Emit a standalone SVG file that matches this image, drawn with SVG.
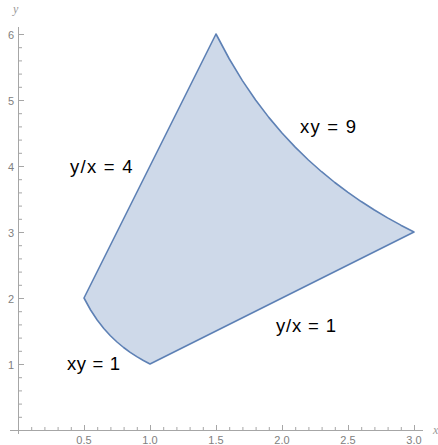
<svg xmlns="http://www.w3.org/2000/svg" width="438" height="445" viewBox="0 0 438 445">
<style>
.ax{stroke:#a6a6a6;stroke-width:1;fill:none}
.tk{stroke:#a6a6a6;stroke-width:1}
.tl{font-family:"Liberation Sans",Arial,sans-serif;font-size:11px;fill:#808080}
.al{font-family:"Liberation Serif","Times New Roman",serif;font-style:italic;font-size:12px;fill:#9a9a9a}
.lb{font-family:"Liberation Sans",Arial,sans-serif;font-size:18.5px;fill:#000}
</style>
<rect width="438" height="445" fill="#fff"/>
<g id="region">
<path d="M150,364 L414,232 L400.8,225.17 L387.6,217.86 L374.4,210 L361.2,201.54 L348,192.4 L334.8,182.5 L321.6,171.74 L308.4,160 L295.2,147.14 L282,133 L268.8,117.37 L255.6,100 L242.4,80.59 L229.2,58.75 L216,34 L84,298 L90.6,310 L97.2,320 L103.8,328.46 L110.4,335.71 L117,342 L123.6,347.5 L130.2,352.35 L136.8,356.67 L143.4,360.53 Z" fill="#5e81b5" fill-opacity="0.3" stroke="#5e81b5" stroke-width="1.6" stroke-linejoin="round"/>
</g>
<g id="axes">
<line class="ax" x1="10" y1="430.5" x2="423" y2="430.5"/>
<line class="ax" x1="18.5" y1="27" x2="18.5" y2="434"/>
<g class="tk">
<line x1="31.7" y1="430" x2="31.7" y2="427"/><line x1="44.9" y1="430" x2="44.9" y2="427"/><line x1="58.1" y1="430" x2="58.1" y2="427"/><line x1="71.3" y1="430" x2="71.3" y2="427"/><line x1="84.5" y1="430" x2="84.5" y2="425"/>
<line x1="97.7" y1="430" x2="97.7" y2="427"/><line x1="110.9" y1="430" x2="110.9" y2="427"/><line x1="124.1" y1="430" x2="124.1" y2="427"/><line x1="137.3" y1="430" x2="137.3" y2="427"/><line x1="150.5" y1="430" x2="150.5" y2="425"/>
<line x1="163.7" y1="430" x2="163.7" y2="427"/><line x1="176.9" y1="430" x2="176.9" y2="427"/><line x1="190.1" y1="430" x2="190.1" y2="427"/><line x1="203.3" y1="430" x2="203.3" y2="427"/><line x1="216.5" y1="430" x2="216.5" y2="425"/>
<line x1="229.7" y1="430" x2="229.7" y2="427"/><line x1="242.9" y1="430" x2="242.9" y2="427"/><line x1="256.1" y1="430" x2="256.1" y2="427"/><line x1="269.3" y1="430" x2="269.3" y2="427"/><line x1="282.5" y1="430" x2="282.5" y2="425"/>
<line x1="295.7" y1="430" x2="295.7" y2="427"/><line x1="308.9" y1="430" x2="308.9" y2="427"/><line x1="322.1" y1="430" x2="322.1" y2="427"/><line x1="335.3" y1="430" x2="335.3" y2="427"/><line x1="348.5" y1="430" x2="348.5" y2="425"/>
<line x1="361.7" y1="430" x2="361.7" y2="427"/><line x1="374.9" y1="430" x2="374.9" y2="427"/><line x1="388.1" y1="430" x2="388.1" y2="427"/><line x1="401.3" y1="430" x2="401.3" y2="427"/><line x1="414.5" y1="430" x2="414.5" y2="425"/>
</g>
<g class="tk">
<line x1="19" y1="417.3" x2="22" y2="417.3"/><line x1="19" y1="404.1" x2="22" y2="404.1"/><line x1="19" y1="390.9" x2="22" y2="390.9"/><line x1="19" y1="377.7" x2="22" y2="377.7"/><line x1="19" y1="364.5" x2="24" y2="364.5"/>
<line x1="19" y1="351.3" x2="22" y2="351.3"/><line x1="19" y1="338.1" x2="22" y2="338.1"/><line x1="19" y1="324.9" x2="22" y2="324.9"/><line x1="19" y1="311.7" x2="22" y2="311.7"/><line x1="19" y1="298.5" x2="24" y2="298.5"/>
<line x1="19" y1="285.3" x2="22" y2="285.3"/><line x1="19" y1="272.1" x2="22" y2="272.1"/><line x1="19" y1="258.9" x2="22" y2="258.9"/><line x1="19" y1="245.7" x2="22" y2="245.7"/><line x1="19" y1="232.5" x2="24" y2="232.5"/>
<line x1="19" y1="219.3" x2="22" y2="219.3"/><line x1="19" y1="206.1" x2="22" y2="206.1"/><line x1="19" y1="192.9" x2="22" y2="192.9"/><line x1="19" y1="179.7" x2="22" y2="179.7"/><line x1="19" y1="166.5" x2="24" y2="166.5"/>
<line x1="19" y1="153.3" x2="22" y2="153.3"/><line x1="19" y1="140.1" x2="22" y2="140.1"/><line x1="19" y1="126.9" x2="22" y2="126.9"/><line x1="19" y1="113.7" x2="22" y2="113.7"/><line x1="19" y1="100.5" x2="24" y2="100.5"/>
<line x1="19" y1="87.3" x2="22" y2="87.3"/><line x1="19" y1="74.1" x2="22" y2="74.1"/><line x1="19" y1="60.9" x2="22" y2="60.9"/><line x1="19" y1="47.7" x2="22" y2="47.7"/><line x1="19" y1="34.5" x2="24" y2="34.5"/>
</g>
<g class="tl" text-anchor="middle">
<text x="84" y="444">0.5</text><text x="150" y="444">1.0</text><text x="216" y="444">1.5</text><text x="282" y="444">2.0</text><text x="348" y="444">2.5</text><text x="414" y="444">3.0</text>
</g>
<g class="tl" text-anchor="end">
<text x="14" y="368.5">1</text><text x="14" y="302.5">2</text><text x="14" y="236.5">3</text><text x="14" y="170.5">4</text><text x="14" y="104.5">5</text><text x="14" y="38.5">6</text>
</g>
<text class="al" x="433" y="434">x</text>
<text class="al" x="13" y="13">y</text>
</g>
<g id="labels">
<text class="lb" x="70" y="173" textLength="62.5" lengthAdjust="spacing">y/x = 4</text>
<text class="lb" x="300" y="133" textLength="56" lengthAdjust="spacing">xy = 9</text>
<text class="lb" x="276" y="332" textLength="60" lengthAdjust="spacing">y/x = 1</text>
<text class="lb" x="67" y="370" textLength="53" lengthAdjust="spacing">xy = 1</text>
</g>
</svg>
